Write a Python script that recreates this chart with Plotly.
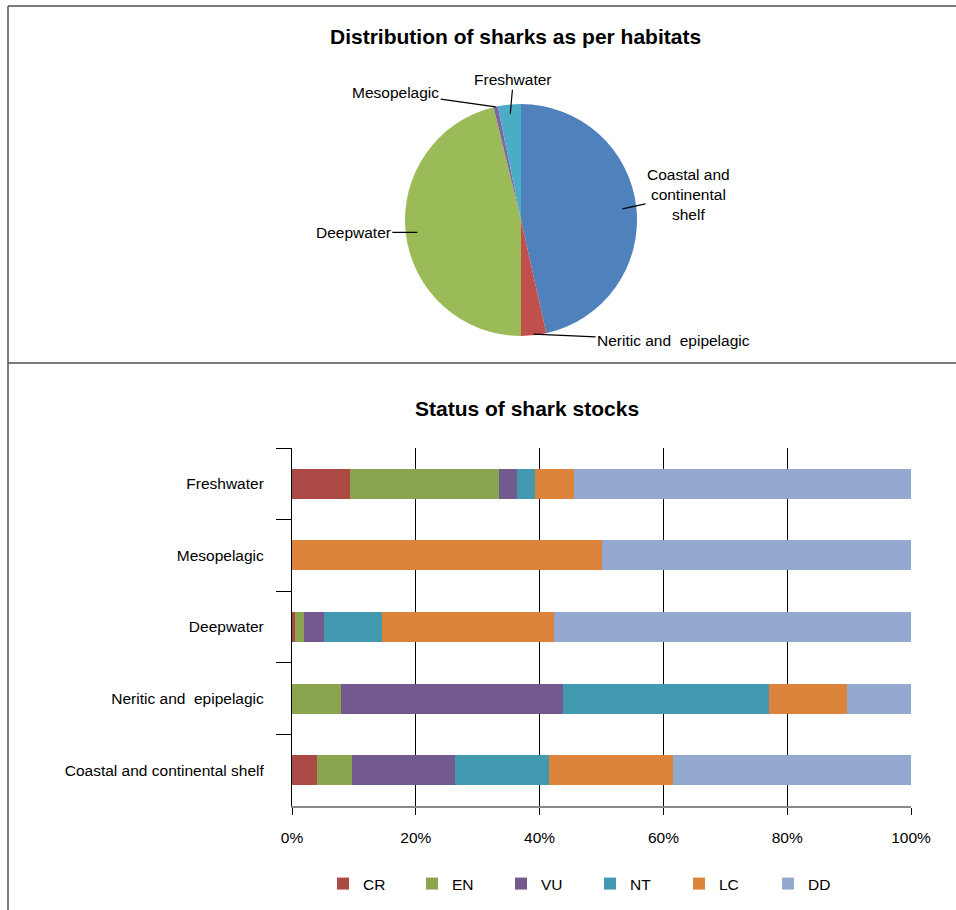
import math
import plotly.graph_objects as go

W, H = 956, 910

# ---------------- data ----------------
habitats = ["Coastal and continental shelf", "Neritic and epipelagic", "Deepwater",
            "Mesopelagic", "Freshwater"]
habitat_share = [46.5, 3.5, 46.2, 0.6, 3.2]
pie_labels = ["Coastal and<br>continental<br>shelf", "Neritic and  epipelagic", "Deepwater",
              "Mesopelagic", "Freshwater"]

bar_categories = ["Freshwater", "Mesopelagic", "Deepwater", "Neritic and  epipelagic",
                  "Coastal and continental shelf"]
statuses = ["CR", "EN", "VU", "NT", "LC", "DD"]
CR = [9.3, 0.0, 0.5, 0.0, 4.1]
EN = [24.2, 0.0, 1.4, 7.9, 5.6]
VU = [2.9, 0.0, 3.3, 35.8, 16.7]
NT = [2.9, 0.0, 9.3, 33.4, 15.1]
LC = [6.3, 50.1, 27.8, 12.6, 20.0]
DD = [54.4, 49.9, 57.7, 10.3, 38.5]
status_values = [CR, EN, VU, NT, LC, DD]
x_ticks = [0, 20, 40, 60, 80, 100]
x_tick_labels = ["0%", "20%", "40%", "60%", "80%", "100%"]

# ---------------- style ----------------
pie_colors = ["#4F81BD", "#C0504D", "#9BBB59", "#8064A2", "#4BACC6"]
bar_colors = ["#AB4A45", "#8AA54D", "#725A8F", "#4399B0", "#DC843B", "#94A9D0"]
FONT = "Liberation Sans, Arial, sans-serif"
TXT = 15.5


def px(x):
    return x / W


def py(y):
    return 1 - y / H


# pie geometry (pixels)
pie_left, pie_right, pie_top, pie_bottom = 405, 637, 104, 336
cx, cy = (pie_left + pie_right) / 2, (pie_top + pie_bottom) / 2
R = (pie_right - pie_left) / 2
label_offsets = [(66, -14), (140, 6), (-64, 0), (-100, -14), (3, -34)]
tip_radius = [0.88, 0.99, 0.9, 1.0, 0.92]

fig = go.Figure()

fig.add_trace(go.Pie(
    labels=habitats, values=habitat_share, sort=False, direction="clockwise", rotation=0,
    textinfo="none", showlegend=False,
    marker=dict(colors=pie_colors, line=dict(width=0)),
    domain=dict(x=[px(pie_left), px(pie_right)], y=[py(pie_bottom), py(pie_top)]),
))

for cat, vals, col in zip(statuses, status_values, bar_colors):
    fig.add_trace(go.Bar(
        y=bar_categories, x=vals, name=cat, orientation="h",
        marker=dict(color=col, line=dict(width=0)), width=0.42,
    ))

annotations = []
total = sum(habitat_share)
cum = 0
for lab, v, (ox, oy), rr in zip(pie_labels, habitat_share, label_offsets, tip_radius):
    mid = (cum + v / 2) / total * 2 * math.pi
    cum += v
    r = R * rr
    tx = cx + r * math.sin(mid)
    ty = cy - r * math.cos(mid)
    annotations.append(dict(
        x=px(tx), y=py(ty), xref="paper", yref="paper", text=lab, showarrow=True,
        ax=ox, ay=oy, arrowhead=0, arrowwidth=1.2, arrowcolor="black", standoff=0,
        font=dict(family=FONT, size=TXT, color="black"), align="center",
    ))

annotations.append(dict(x=px(515), y=py(37), xref="paper", yref="paper", showarrow=False,
                        xanchor="center", yanchor="middle",
                        text="<b>Distribution of sharks as per habitats</b>",
                        font=dict(family=FONT, size=21, color="black")))
annotations.append(dict(x=px(527), y=py(409), xref="paper", yref="paper", showarrow=False,
                        xanchor="center", yanchor="middle",
                        text="<b>Status of shark stocks</b>",
                        font=dict(family=FONT, size=21, color="black")))

shapes = [
    dict(type="line", xref="paper", yref="paper", x0=px(8), x1=1.01, y0=py(6), y1=py(6),
         line=dict(color="#505050", width=1.5)),
    dict(type="line", xref="paper", yref="paper", x0=px(8), x1=px(8), y0=py(6), y1=-0.01,
         line=dict(color="#505050", width=1.5)),
    dict(type="line", xref="paper", yref="paper", x0=px(8), x1=1.01, y0=py(363), y1=py(363),
         line=dict(color="#505050", width=1.5)),
]

fig.update_layout(
    width=W, height=H, margin=dict(l=0, r=0, t=0, b=0, autoexpand=False),
    paper_bgcolor="white", plot_bgcolor="white",
    barmode="stack", bargap=0.58,
    font=dict(family=FONT, size=TXT, color="black"),
    annotations=annotations, shapes=shapes,
    legend=dict(orientation="h", x=px(590), xanchor="center", y=py(884), yanchor="middle",
                font=dict(family=FONT, size=TXT, color="black"), traceorder="normal",
                entrywidth=44, itemwidth=30),
    xaxis=dict(domain=[px(292), px(911)], range=[0, 100], tickvals=x_ticks,
               ticktext=x_tick_labels, automargin=False,
               showgrid=True, gridcolor="black", gridwidth=1, zeroline=False,
               showline=True, linecolor="#888888", linewidth=2,
               ticks="outside", ticklen=7, tickcolor="black", tickwidth=1,
               ticklabelstandoff=9, tickfont=dict(size=TXT), fixedrange=True),
    yaxis=dict(domain=[py(806), py(448)], categoryorder="array",
               categoryarray=list(reversed(bar_categories)), type="category",
               automargin=False,
               showline=True, linecolor="black", linewidth=1.2,
               ticks="outside", tickson="boundaries", ticklen=15, tickcolor="black",
               tickwidth=1.2, showgrid=False, ticklabelstandoff=24,
               tickfont=dict(size=TXT), fixedrange=True),
)

fig.write_html("out.html")
